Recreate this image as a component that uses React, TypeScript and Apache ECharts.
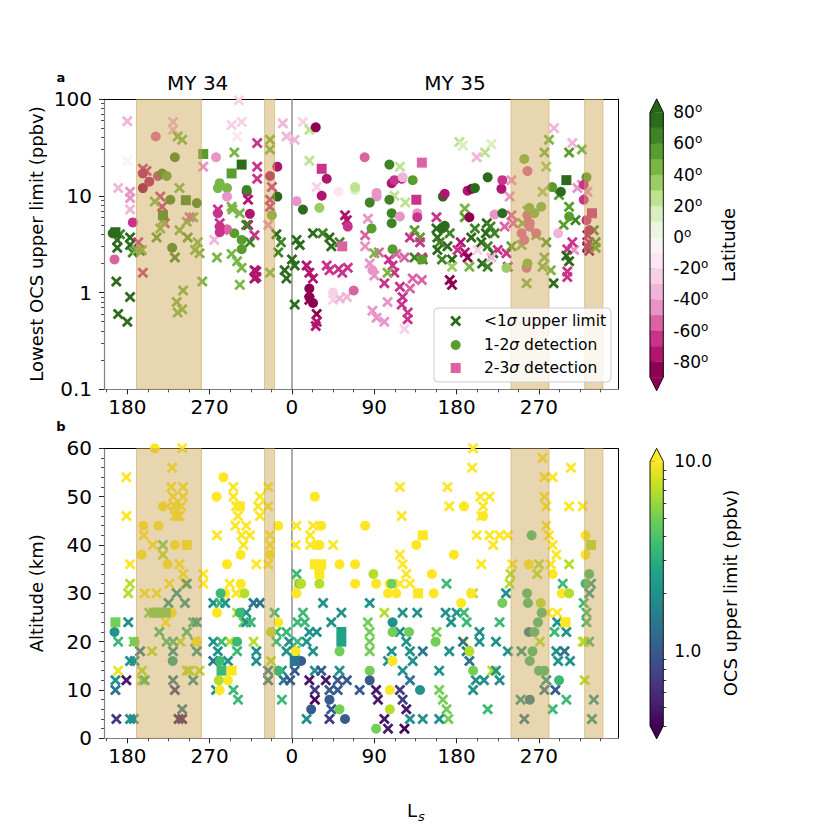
import React, { useEffect, useRef } from "react";
import * as echarts from "echarts";

const FONT = "DejaVu Sans";

// ---------- x axis: continuous Ls (MY34 Ls x -> x, MY35 Ls x -> 360 + x)
const LS_MIN = 154.5;
const LS_MAX = 717;
const LS_MAJOR = [180, 270, 360, 450, 540, 630];
const LS_MINOR = [157.5, 202.5, 225, 247.5, 292.5, 315, 337.5, 382.5, 405, 427.5, 472.5, 495, 517.5, 562.5, 585, 607.5, 652.5, 675, 697.5];
const MY35_START = 360;
const DUST_STORMS = [[190, 261], [330, 341], [599.5, 641], [680, 700]];

// ---------- panel a y axis (ppbv, log)
const A_Y_TICKS = [0.1, 1, 10, 100];
const A_Y_MINOR = [0.2, 0.3, 0.4, 0.5, 0.6, 0.7, 0.8, 0.9, 2, 3, 4, 5, 6, 7, 8, 9, 20, 30, 40, 50, 60, 70, 80, 90];
// ---------- panel b y axis (km)
const B_Y_MIN = 0;
const B_Y_MAX = 60;
const B_Y_STEP = 10;

// ---------- latitude colour scale
const LAT_BOUNDS = [-90, -80, -70, -60, -50, -40, -30, -20, -10, 0, 10, 20, 30, 40, 50, 60, 70, 80];
const LAT_COLORS = ["#8e0152", "#b0166f", "#c9338b", "#da64a3", "#e794c6", "#f0b5d9", "#f8d0e7", "#fbe6f1", "#f6f4f5",
  "#ebf5e0", "#d9efbf", "#bde391", "#9bcd66", "#79b645", "#5a9d2f", "#3f8424", "#2c6b1c"];
const LAT_UNDER = "#8e0152";
const LAT_OVER = "#276419";
const LAT_TICKS = [-80, -60, -40, -20, 0, 20, 40, 60, 80];

// ---------- OCS colour scale (log, viridis)
const PPBV_MIN = 0.4;
const PPBV_MAX = 10;
const PPBV_TICKS = [1, 10];
const PPBV_MINOR = [0.4, 0.5, 0.6, 0.7, 0.8, 0.9, 2, 3, 4, 5, 6, 7, 8, 9];
const VIRIDIS = ["#440154", "#482475", "#414487", "#355f8d", "#2a788e", "#21918c", "#22a884", "#44bf70", "#7ad151", "#bddf26", "#fde725"];

// ---------- panel a data: [Ls, lowest OCS upper limit (ppbv), latitude]
const A_LIMIT = [
  [170, 12, -35], [183, 11, -45], [183, 9.5, -45], [183, 7.2, -35], [180, 59, -35], [180, 23, -5],
  [169, 3.5, 75], [169, 2.9, 75], [183, 3.7, 75], [183, 3.1, 75], [186, 2.6, 65], [194, 2.7, 75], [168, 1.3, 75], [183, 0.9, 75], [170, 0.6, 75], [180, 0.5, 75], [172, 4.0, 65], [192, 3.3, -65],
  [230, 58, -35], [230, 48, -35], [235, 41, 45], [240, 38, 45], [197, 19, -65], [201, 18, -65], [237, 12, 45], [216, 9.8, -65], [218, 7.7, -65], [221, 5.2, -65], [263, 20, -45],
  [210, 8.7, 45], [219, 5.6, 45], [216, 4.6, 45], [212, 3.7, 55], [237, 4.4, 45], [245, 5.4, 45], [252, 6, 45], [257, 3.3, 45], [259, 2.55, 45], [246, 3.7, 55], [254, 2.75, 45], [232, 2.3, 65], [197, 1.6, -65], [241, 1.05, 45], [234, 0.8, 45], [240, 0.67, 45], [235, 0.62, 45], [262, 1.3, 45], [196, 2.75, 45], [190, 2.75, 45], [248, 6, -55],
  [302, 97, -25], [294, 54, -25], [305, 58, -25], [300, 41, -15], [322, 35, -65], [322, 20, -65], [322, 15, -65], [297, 28, 45],
  [279, 7.2, -65], [281, 5.2, -65], [312, 9.1, -75], [312, 5, -75], [319, 3.9, -65], [319, 1.7, -75], [319, 1.4, -75], [321, 1.65, -75], [321, 1.45, -75],
  [294, 7.7, 45], [303, 6.6, 45], [278, 2.3, 45], [294, 2.5, 45], [300, 2.1, 45], [305, 1.8, 45], [303, 1.2, 45], [310, 5, 65], [314, 3.3, 65], [295, 7.2, 45], [285, 4.4, -45], [275, 3.5, -35],
  [336, 38, 45], [336, 30, 45], [338, 12.3, -65], [336, 9.1, -65], [336, 7.7, -65], [336, 1.6, 45], [334, 5, -45],
  [350, 56, -35], [354, 41, -35], [363, 38, -35], [352, 1.7, 75], [354, 1.4, 75], [360, 2.2, 75], [363, 1.9, 75], [345, 2.6, 65], [348, 3.3, 65], [343, 4, 75],
  [372, 58, -25], [387, 12.3, -25], [379, 48, 25], [379, 23, 25],
  [365, 3.5, 75], [368.5, 3.1, 75], [383, 4.1, 75], [393.5, 4.1, 65], [401, 3.7, 75], [403, 3.0, 75], [412, 3.3, 65],
  [376, 1.9, -75], [379, 1.6, -75], [383, 1.4, -75], [398, 1.9, -65], [401, 1.7, -65], [411, 1.75, -65], [415, 1.6, -65], [421, 1.8, -65], [418, 6.3, -75], [420, 5.6, -75],
  [379, 0.84, -85], [387, 0.6, -85], [387, 0.5, -75], [386, 0.45, -75],
  [405, 0.84, -25], [412, 0.87, -35], [420, 0.9, -35], [363, 0.75, 75],
  [448, 0.65, -45], [452.5, 0.55, -45], [461, 0.5, -45], [464.5, 0.8, -45], [483, 0.42, -25], [480, 0.75, -65], [486.5, 0.62, -65], [486.5, 0.53, -65], [481, 0.9, -65], [461, 1.25, -65], [472, 1.6, -65], [478, 1.15, -65], [489, 1.1, -55], [492, 1.4, -55], [502, 1.35, -55], [445, 2.0, -45], [440, 3, -45], [450, 1.5, -45], [455, 2.6, -55], [466, 2.2, -65], [470, 1.9, -65], [474, 2.5, -55], [483, 2.3, -55],
  [472, 10, 25], [484, 8.5, 25], [494, 4.4, 55], [500, 3.7, 55], [494, 2.3, 65], [503, 2.2, 65], [464.5, 1.6, 45], [450, 2.55, 45], [443, 5.8, -45], [440, 3.9, -55], [500, 3.3, -65], [489, 3.7, -65], [502, 2.3, -65],
  [543, 36, 25], [547, 33, 15], [578, 34, 15], [571, 28, 25], [562, 25, -35], [478, 20, 25],
  [519, 3.7, 75], [521.5, 3.3, 65], [519, 2.75, 75], [530, 3, 75], [524, 2.2, 65], [535, 2.2, 75], [518, 4.6, 75], [532.5, 4.1, 65],
  [532.5, 1.35, -85], [535, 1.2, -85], [518, 6, -65],
  [544.5, 3.3, -75], [549, 2.6, -75], [552, 2.3, -85], [541, 2.75, -65], [563, 2.75, -25],
  [573, 5.2, 75], [577, 4.8, 65], [572, 4.1, 75], [581.5, 4.1, 65], [567, 3.3, 75], [574, 3, 65], [580, 2.55, 75], [568, 2, 75], [574, 1.85, 65], [560, 4.6, 65], [556, 3.7, 75],
  [549, 7.4, 45], [549, 6, 55], [554, 1.85, 45], [535, 1.85, 35],
  [585, 2.75, -65], [594.5, 2.55, -65], [596, 1.85, -65], [578, 2.3, -35], [592.5, 4.8, -55],
  [617.5, 7, 45], [612, 5.2, 45], [611, 3.1, 45], [627, 3.9, 45], [636, 2.3, 45], [634, 1.85, 45], [638, 3.3, 55], [616.5, 1.25, 45], [600, 3, 55],
  [636, 28, 45], [638, 20, 35], [634, 11, 35], [600, 14.5, -45], [598, 9.8, -45], [600, 6.3, -55], [602, 5.2, -55],
  [646.5, 50, -35], [666.5, 35, -35], [641, 38, 45], [663, 28, 55], [652, 10.2, 55], [663, 7.7, 55], [643, 1.7, 45], [646, 1.25, 75], [661, 1.65, -65], [661, 1.45, -65], [668.5, 2.75, -45], [661, 2.8, -65], [666.5, 3.3, -65], [660, 2.4, 75], [663, 2.1, 75], [657, 5, 55], [670, 5.6, 65],
  [677, 30, 45], [677, 13, -45], [672, 12, -45], [683, 11, -45], [683, 2.9, -85], [685, 2.7, -85], [683, 3.9, -75], [685, 3.3, -75], [683, 3, -75],
  [690, 4.4, 65], [692, 3.3, 65], [692, 2.9, 55],
];
const A_DET12 = [
  [164, 4.1, 75], [166, 2.2, -55], [186, 5.3, -65],
  [211, 41, -55], [232, 25, 65], [197, 17, -75], [197, 12, -85], [213.5, 16, -65], [218, 17, 65], [223, 16, 55], [227, 9.1, 65], [256, 8.4, 65], [229, 2.9, 65], [204, 14, -75],
  [277, 25, -45], [281, 13.5, 45], [279, 12, 45], [289, 12, 45], [289, 9.8, -45], [279, 6.6, -65], [314, 6.5, -75], [310.5, 11, -75], [310.5, 11.5, 65], [297, 4.1, 55], [305, 3.5, 55], [305, 2.8, 55], [289, 4.5, -55], [281, 4.8, -65], [281, 4.2, -65],
  [336, 16, -75], [344, 20, -75], [338, 6.3, 45], [344, 9.8, 75],
  [386, 51, -85], [398, 15, -75], [392.5, 10, -75], [411, 11, -15], [429, 11.5, 15], [390, 7.5, 35], [372, 7.2, 75], [421, 4.8, -65], [365, 8.8, -45], [379, 1.1, -85], [379, 0.9, -85], [383, 0.78, -85], [405, 1.0, -25], [427.5, 1.05, -55],
  [429, 12.3, 25], [469, 13.5, -75], [480, 15, -75], [492, 14.5, 55], [452.5, 9.8, -45], [445, 8.5, 65], [466.5, 9.1, 65], [469, 6.6, 65], [469, 5.2, 65], [447, 4.6, 55], [478, 6.1, -45], [497, 6.6, -45], [470, 2.8, 55], [502, 2.2, 55], [448, 1.7, -45], [525, 9.8, 75], [524, 4.6, 75], [527, 4.9, 75], [552, 11.3, -75], [556.5, 11.8, -85], [554, 6, -85], [560, 12, 75], [581.5, 6.4, -45], [590, 6.6, 75], [589, 11.8, -75], [590, 14.5, -65], [574, 15.5, 75], [594.5, 1.8, 35], [439.5, 25, -55], [466.5, 21, 65], [472, 14.5, -65], [481, 15.5, -35], [527, 10.5, -75], [497, 6, -65], [452.5, 10.7, -45],
  [614, 24, 45], [617.5, 18, -55], [617.5, 6.3, -55], [620, 5.2, -55], [619.5, 4.8, -55], [627, 4.1, -55], [611, 4.1, -55], [614, 3.5, -55], [616.5, 1.8, -55], [632.5, 7.7, 45], [619.5, 7.5, 45], [625, 6.6, 45], [617.5, 2.0, 45], [644.5, 12.3, 55],
  [654, 11, 75], [663, 6.1, 55], [651, 4.1, -35], [682, 15.5, 55], [679, 9.1, -65], [682, 5.6, -65], [685, 4.4, -75], [679, 13, -65],
];
const A_DET23 = [
  [167, 4.2, 75], [219, 6.3, 65], [244, 9, 65], [263, 27, 55], [294, 17, 55], [305, 21, 75], [392.5, 19, -65], [415, 3.0, -55], [502, 22, -55], [496, 9.1, -65], [660, 14.5, 75], [688, 6.6, -65],
];

// ---------- panel b data: [Ls, altitude (km), OCS upper limit (ppbv)]
const B_LIMIT = [
  [170, 20, 3.5], [170, 14, 9], [167, 12, 2], [167, 10, 1.4], [179, 12, 0.5], [168, 4, 0.7], [183, 4, 2], [187, 4, 2], [179, 54, 12], [179, 46, 12], [183, 36, 12], [183, 32, 7], [181, 30, 7], [181, 24, 2], [187, 20, 5], [188, 16, 2], [183, 16, 2],
  [240, 60, 12], [229, 56, 12], [228, 52, 12], [230, 50, 12], [232, 48, 12], [235, 46, 12], [232, 46, 12], [241, 52, 12], [241, 50, 12], [239, 48, 12], [237, 46, 12], [224, 48, 12], [237, 36, 12], [241, 34, 12], [243, 32, 12], [226, 32, 12], [222, 24, 12], [212, 30, 12], [199, 30, 12], [198, 42, 12], [208, 40, 12], [219, 40, 5], [219, 38, 7], [215, 22, 3.5], [223, 20, 3.5], [230, 18, 2], [207, 18, 7], [194, 18, 1.4], [196, 14, 7], [196, 12, 7], [238, 20, 7], [245, 22, 3.5], [252, 24, 3.5], [256, 24, 2], [254, 20, 3.5], [256, 18, 2], [245, 32, 2], [234, 30, 2], [243, 28, 2], [230, 12, 1.4], [232, 10, 0.7], [240, 6, 1.4], [236, 4, 0.5], [240, 4, 0.5], [245, 14, 7], [248, 14, 7], [252, 12, 2], [259, 14, 7], [263, 34, 12], [263, 32, 12], [199, 12, 3.5], [204, 26, 5], [230, 20, 3.5], [225, 28, 2],
  [296, 52, 12], [296, 50, 12], [299, 48, 12], [301, 46, 12], [298, 44, 12], [305, 42, 12], [307, 40, 12], [310, 44, 12], [314, 42, 12], [325, 50, 12], [323, 48, 12], [325, 46, 12], [278, 42, 12], [321, 36, 12], [292, 32, 12], [299, 30, 12], [300, 26, 7], [307, 24, 5], [292, 20, 7],
  [274, 28, 2], [281, 28, 3.5], [287, 28, 2], [274, 20, 2], [279, 18, 2], [274, 16, 1.4], [300, 18, 3.5], [296, 10, 3.5], [301, 8, 3.5], [310, 26, 2], [310, 24, 2], [318, 28, 1.4], [315, 24, 3.5], [318, 20, 7], [321, 18, 2], [321, 16, 2], [325, 28, 1.4], [277, 10, 2], [283, 20, 3.5], [290, 16, 2],
  [334, 52, 12], [334, 48, 12], [336, 42, 12], [336, 40, 12], [334, 36, 12], [337, 16, 7], [334, 14, 1.4], [334, 12, 1.4], [341, 26, 3.5], [343, 22, 3.5], [343, 20, 3.5], [349, 8, 3.5], [354, 18, 2], [349, 14, 2], [351, 12, 1.4], [354, 22, 3.5], [357, 20, 2], [358, 12, 1],
  [365, 44, 12], [364, 40, 12], [365, 34, 3.5], [367, 32, 12], [366, 24, 3.5], [363, 18, 2], [363, 14, 1], [366, 20, 3.5],
  [383, 44, 12], [380, 42, 12], [380, 40, 12], [405, 40, 12], [478, 52, 12], [480, 46, 12], [478, 38, 12], [481, 36, 12], [485, 34, 12], [489, 32, 12], [478, 32, 12], [530, 52, 12], [532, 48, 12], [566, 50, 12], [569, 48, 12], [576, 50, 12], [567, 46, 12], [557, 56, 12], [558, 60, 12], [562, 42, 12], [576, 42, 12], [580, 40, 12], [587, 42, 12], [596, 42, 12], [567, 36, 12], [634, 58, 12], [636, 54, 12], [636, 50, 12], [638, 48, 12], [638, 44, 12], [641, 42, 12], [645, 40, 12], [649, 38, 12], [643, 36, 12], [599, 34, 7], [598, 32, 7], [601, 36, 12], [630, 36, 7], [628, 34, 7], [645, 54, 12], [665, 56, 12], [663, 48, 12], [678, 48, 12], [663, 36, 7], [650, 26, 12], [680, 12, 7], [680, 20, 7], [548, 20, 12], [461, 26, 7],
  [372, 26, 3.5], [374, 24, 3.5], [379, 22, 2], [376, 20, 2], [387, 22, 2], [383, 18, 2], [385, 14, 2], [379, 12, 0.5], [385, 10, 0.7], [385, 8, 0.42], [376, 4, 2], [394, 28, 2], [403, 24, 2], [414, 26, 2], [392, 14, 1], [397, 12, 0.5], [401, 10, 1], [403, 6, 1], [401, 4, 0.7], [412, 14, 2], [410, 12, 1], [410, 10, 1], [420, 12, 1], [445, 28, 2], [443, 24, 5], [445, 22, 5], [445, 20, 5], [445, 18, 5], [434, 10, 1], [452, 10, 0.5], [454, 8, 0.5], [461, 4, 0.5], [465, 2, 0.5], [465, 16, 2], [481, 26, 2], [497, 26, 2], [478, 22, 2], [485, 20, 2], [489, 18, 2], [492, 16, 2], [503, 18, 1.4], [481, 14, 2], [489, 12, 1.4], [478, 10, 0.7], [481, 8, 0.7], [485, 6, 0.5], [483, 2, 0.42], [489, 4, 2], [503, 4, 2], [469, 18, 2], [518, 22, 5], [521, 14, 2], [521, 10, 5], [525, 8, 5], [529, 6, 5], [531, 4, 5], [521, 4, 2], [528, 26, 2], [534, 24, 2], [532, 18, 2], [540, 26, 2], [547, 20, 1.4], [551, 18, 1.4], [554, 16, 1.4], [548, 26, 3.5], [551, 24, 3.5], [558, 30, 7], [565, 22, 2], [565, 20, 2], [561, 12, 2], [558, 10, 2], [570, 12, 2], [579, 14, 7], [583, 20, 2], [587, 24, 3.5], [594, 30, 2], [596, 18, 2], [583, 14, 2], [587, 12, 2], [574, 6, 3.5], [529, 32, 3.5],
  [614, 4, 1.4], [610, 8, 2], [611, 18, 2], [631, 20, 7], [638, 12, 2], [636, 10, 1.4], [640, 26, 12],
  [656, 32, 3.5], [650, 24, 2], [660, 22, 2], [649, 18, 2], [651, 16, 2], [648, 10, 1], [645, 6, 3.5], [660, 8, 3.5], [647, 22, 3.5], [658, 18, 1.4], [664, 16, 2],
  [679, 28, 3.5], [682, 26, 3.5], [682, 24, 3.5], [685, 20, 3.5], [690, 8, 2], [688, 4, 2], [685, 30, 2], [687, 32, 2], [678, 20, 7],
];
const B_DET12 = [
  [166, 22, 2], [210, 60, 12], [197.5, 44, 12], [195.7, 38, 12], [214, 44, 12], [224, 36, 12], [232, 40, 12], [219, 48, 12], [234, 48, 12], [256, 20, 12], [228.5, 26, 12], [229.6, 16, 2.5], [188, 20, 5],
  [277.6, 50, 12], [285, 54, 12], [289, 36, 12], [287, 30, 12], [304, 38, 12], [304, 32, 12], [278, 26, 12], [281, 10, 12], [290, 12, 12], [282, 30, 3.5], [308, 30, 7], [303, 26, 3.5], [300, 20, 3.5], [281, 16, 3.5], [280, 12, 7],
  [336, 38, 12], [337, 22, 7], [345, 44, 12], [345, 24, 12], [345, 14, 3.5],
  [365, 30, 12], [364, 18, 12], [368, 32, 5],
  [385, 50, 12], [392, 44, 12], [390, 40, 12], [388, 40, 12], [412, 36, 12], [429, 36, 12], [429, 32, 12], [452, 32, 12], [440, 44, 12], [467, 32, 12], [449, 34, 7], [370, 32, 7], [390, 32, 7], [465, 30, 12], [474, 30, 12], [469, 32, 5], [496, 40, 12], [513, 34, 12], [515, 30, 12], [537, 38, 12], [548, 48, 12], [569, 46, 12], [556, 30, 12], [545, 28, 12],
  [370, 16, 1], [381, 6, 1], [401, 8, 1], [412, 18, 5], [412, 6, 5], [418, 4, 1], [445, 14, 5], [445, 12, 1], [452, 2, 5], [467, 10, 12], [467, 6, 7], [470, 22, 5], [470, 24, 2], [470, 16, 12], [488, 22, 5], [500, 10, 2], [517, 20, 5], [554, 18, 7], [558, 14, 5], [590, 28, 5],
  [622, 42, 3.5], [619, 36, 12], [617, 30, 3.5], [618, 28, 3.5], [633, 26, 3.5], [632, 28, 7], [629, 24, 3.5], [619, 22, 1.4], [625, 22, 3.5], [623, 18, 3.5], [620, 16, 3.5], [630, 14, 3.5], [636, 14, 3.5], [620, 8, 1.4],
  [645, 34, 12], [655, 30, 12], [663, 30, 7], [652, 12, 3.5], [681, 42, 12], [681, 38, 12], [685, 34, 3.5], [681, 32, 3.5],
];
const B_DET23 = [
  [167, 24, 5], [209, 26, 5], [216, 26, 5], [222, 26, 5], [245, 40, 12], [303, 48, 12], [283, 14, 3.5], [294, 14, 12], [363, 16, 1.4], [385, 36, 12], [392, 36, 12], [390, 34, 12], [503, 42, 12], [498, 30, 12], [414, 22, 2.5], [414, 20, 2.5], [659, 24, 12], [687, 40, 7],
];

// ---------- helpers
const X_UNIT = [[0, 1.8], [1.8, 0], [5, 3.2], [8.2, 0], [10, 1.8], [6.8, 5], [10, 8.2], [8.2, 10], [5, 6.8], [1.8, 10], [0, 8.2], [3.2, 5]];
const X_SYMBOL = "path://M" + X_UNIT.map((p) => p.join(",")).join("L") + "Z";

function latColor(lat: number) {
  if (lat < LAT_BOUNDS[0]) return LAT_UNDER;
  if (lat >= LAT_BOUNDS[LAT_BOUNDS.length - 1]) return LAT_OVER;
  const i = Math.floor((lat - LAT_BOUNDS[0]) / 10);
  return LAT_COLORS[Math.max(0, Math.min(LAT_COLORS.length - 1, i))];
}
function hex2rgb(h: string) {
  return [parseInt(h.slice(1, 3), 16), parseInt(h.slice(3, 5), 16), parseInt(h.slice(5, 7), 16)];
}
function ppbvColor(v: number) {
  const lo = Math.log10(PPBV_MIN), hi = Math.log10(PPBV_MAX);
  let t = (Math.log10(v) - lo) / (hi - lo);
  t = Math.max(0, Math.min(1, t));
  const f = t * (VIRIDIS.length - 1);
  const i = Math.min(VIRIDIS.length - 2, Math.floor(f));
  const r = f - i;
  const a = hex2rgb(VIRIDIS[i]), b = hex2rgb(VIRIDIS[i + 1]);
  const c = a.map((x, k) => Math.round(x + (b[k] - x) * r));
  return `rgb(${c[0]},${c[1]},${c[2]})`;
}

const GRID_A = { left: 104, top: 99, width: 514.5, height: 290.3 };
const GRID_B = { left: 104, top: 448.3, width: 514.5, height: 290 };
const GRID_CA = { left: 650, top: 112.3, width: 13.3, height: 265 };
const GRID_CB = { left: 650, top: 461.3, width: 13.3, height: 264.6 };

const SPINE_GRAY = "#808080";
const TICK_COLOR = "#222";

function lsAxes(gridIndex: number) {
  return [
    {
      type: "value", gridIndex, min: LS_MIN, max: LS_MAX, position: "bottom",
      axisLine: { show: true, onZero: false, lineStyle: { color: SPINE_GRAY, width: 1.2 } },
      axisTick: { show: true, customValues: LS_MAJOR, length: 5, lineStyle: { color: TICK_COLOR, width: 1 } },
      axisLabel: {
        show: true, customValues: LS_MAJOR, fontSize: 20, color: "#000", fontFamily: FONT, margin: 8,
        formatter: (v: number) => String(Math.round(v) % MY35_START),
      },
      splitLine: { show: false },
    },
    {
      type: "value", gridIndex, min: LS_MIN, max: LS_MAX, position: "bottom",
      axisLine: { show: false, onZero: false },
      axisTick: { show: true, customValues: LS_MINOR, length: 3, lineStyle: { color: TICK_COLOR, width: 0.8 } },
      axisLabel: { show: false },
      splitLine: { show: false },
    },
    {
      type: "value", gridIndex, min: 0, max: 1, position: "top",
      axisLine: { show: true, onZero: false, lineStyle: { color: "#000", width: 1 } },
      axisTick: { show: false }, axisLabel: { show: false }, splitLine: { show: false },
    },
  ];
}

function rightSpine(gridIndex: number) {
  return {
    type: "value", gridIndex, min: 0, max: 1, position: "right",
    axisLine: { show: true, onZero: false, lineStyle: { color: "#000", width: 1 } },
    axisTick: { show: false }, axisLabel: { show: false }, splitLine: { show: false },
  };
}

function scatter(xi: number, yi: number, data: number[][], symbol: string, size: number, colorFn: (v: number) => string, yFn: (v: number) => number, z: number) {
  return {
    type: "scatter", xAxisIndex: xi, yAxisIndex: yi, symbol, symbolSize: size, z, silent: true,
    data: data.map(([x, y, c]) => ({ value: [x, yFn(y)], itemStyle: { color: colorFn(c), opacity: 1 } })),
  };
}

function bandSeries(xi: number, yi: number) {
  return {
    type: "custom", xAxisIndex: xi, yAxisIndex: yi, z: 6, silent: true, clip: true,
    data: DUST_STORMS.map(([s, e]) => [s, e, 0]),
    encode: { x: [0, 1], y: 2 },
    renderItem: (params: any, api: any) => {
      const cs = params.coordSys;
      const x0 = api.coord([api.value(0), 0])[0];
      const x1 = api.coord([api.value(1), 0])[0];
      return {
        type: "rect",
        shape: { x: x0, y: cs.y, width: x1 - x0, height: cs.height },
        style: { fill: "rgba(204,164,79,0.45)", stroke: "rgba(204,164,79,0.55)", lineWidth: 1 },
      };
    },
  };
}

function yearLine(xi: number, yi: number) {
  return {
    type: "custom", xAxisIndex: xi, yAxisIndex: yi, z: 1, silent: true,
    data: [[MY35_START, 0]],
    renderItem: (params: any, api: any) => {
      const cs = params.coordSys;
      const x = api.coord([api.value(0), 0])[0];
      return { type: "line", shape: { x1: x, y1: cs.y, x2: x, y2: cs.y + cs.height }, style: { stroke: SPINE_GRAY, lineWidth: 1.3 } };
    },
  };
}

function xPoints(cx: number, cy: number, s: number) {
  return X_UNIT.map(([px, py]) => [cx + (px - 5) * s / 10, cy + (py - 5) * s / 10]);
}

export default function App() {
  const ref = useRef<HTMLDivElement>(null);
  useEffect(() => {
    if (!ref.current) return;
    const chart = echarts.init(ref.current, undefined, { renderer: "svg" });
    const log10 = (v: number) => Math.log10(v);
    const ident = (v: number) => v;
    const aLabels: Record<string, string> = {};
    A_Y_TICKS.forEach((t) => { aLabels[String(Math.round(Math.log10(t)))] = String(t); });

    const option: any = {
      animation: false,
      backgroundColor: "#fff",
      textStyle: { fontFamily: FONT },
      grid: [
        { ...GRID_A, containLabel: false },
        { ...GRID_B, containLabel: false },
        { ...GRID_CA, containLabel: false },
        { ...GRID_CB, containLabel: false },
      ],
      xAxis: [
        ...lsAxes(0), // 0,1,2
        ...lsAxes(1), // 3,4,5
        { type: "value", gridIndex: 2, min: 0, max: 1, show: false }, // 6
        { type: "value", gridIndex: 3, min: 0, max: 1, show: false }, // 7
      ],
      yAxis: [
        { // 0: panel a
          type: "value", gridIndex: 0, min: Math.log10(A_Y_TICKS[0]), max: Math.log10(A_Y_TICKS[3]), interval: 1, position: "left",
          axisLine: { show: true, onZero: false, lineStyle: { color: SPINE_GRAY, width: 1.2 } },
          axisTick: { show: true, length: 5, lineStyle: { color: TICK_COLOR, width: 1 } },
          axisLabel: { fontSize: 20, color: "#000", fontFamily: FONT, margin: 12, formatter: (v: number) => aLabels[String(Math.round(v))] ?? "" },
          splitLine: { show: false },
        },
        { // 1: panel a minor
          type: "value", gridIndex: 0, min: Math.log10(A_Y_TICKS[0]), max: Math.log10(A_Y_TICKS[3]), position: "left",
          axisLine: { show: false, onZero: false },
          axisTick: { show: true, customValues: A_Y_MINOR.map(log10), length: 3, lineStyle: { color: TICK_COLOR, width: 0.8 } },
          axisLabel: { show: false }, splitLine: { show: false },
        },
        rightSpine(0), // 2
        { // 3: panel b
          type: "value", gridIndex: 1, min: B_Y_MIN, max: B_Y_MAX, interval: B_Y_STEP, position: "left",
          axisLine: { show: true, onZero: false, lineStyle: { color: SPINE_GRAY, width: 1.2 } },
          axisTick: { show: true, length: 5, lineStyle: { color: TICK_COLOR, width: 1 } },
          minorTick: { show: true, splitNumber: 5, length: 3, lineStyle: { color: TICK_COLOR, width: 0.8 } },
          axisLabel: { fontSize: 20, color: "#000", fontFamily: FONT, margin: 12 },
          splitLine: { show: false },
        },
        rightSpine(1), // 4
        { // 5: latitude colourbar
          type: "value", gridIndex: 2, min: LAT_BOUNDS[0], max: LAT_BOUNDS[LAT_BOUNDS.length - 1], position: "right",
          axisLine: { show: false },
          axisTick: { show: true, customValues: LAT_TICKS, length: 5, inside: false, lineStyle: { color: "#000", width: 1 } },
          axisLabel: {
            show: true, customValues: LAT_TICKS, margin: 10, color: "#000", fontFamily: FONT,
            formatter: (v: number) => `{n|${v}}{s|o}`,
            rich: {
              n: { fontSize: 17, fontFamily: FONT, color: "#000", lineHeight: 20, verticalAlign: "middle" },
              s: { fontSize: 12, fontFamily: FONT, color: "#000", lineHeight: 20, verticalAlign: "top", padding: [0, 0, 8, 0] },
            },
          },
          splitLine: { show: false },
        },
        { // 6: ppbv colourbar
          type: "value", gridIndex: 3, min: Math.log10(PPBV_MIN), max: Math.log10(PPBV_MAX), position: "right",
          axisLine: { show: false },
          axisTick: { show: true, customValues: PPBV_TICKS.map(log10), length: 5, lineStyle: { color: "#000", width: 1 } },
          axisLabel: {
            show: true, customValues: PPBV_TICKS.map(log10), margin: 11, fontSize: 17, color: "#000", fontFamily: FONT,
            formatter: (v: number) => Math.pow(10, v).toFixed(1),
          },
          splitLine: { show: false },
        },
        { // 7: ppbv colourbar minor ticks
          type: "value", gridIndex: 3, min: Math.log10(PPBV_MIN), max: Math.log10(PPBV_MAX), position: "right",
          axisLine: { show: false },
          axisTick: { show: true, customValues: PPBV_MINOR.map(log10), length: 3, lineStyle: { color: "#000", width: 0.8 } },
          axisLabel: { show: false }, splitLine: { show: false },
        },
      ],
      series: [
        yearLine(0, 0),
        scatter(0, 0, A_LIMIT, X_SYMBOL, 11, latColor, log10, 2),
        scatter(0, 0, A_DET12, "circle", 10, latColor, log10, 3),
        scatter(0, 0, A_DET23, "rect", 10, latColor, log10, 4),
        bandSeries(0, 0),
        yearLine(3, 3),
        scatter(3, 3, B_LIMIT, X_SYMBOL, 11, ppbvColor, ident, 2),
        scatter(3, 3, B_DET12, "circle", 10, ppbvColor, ident, 3),
        scatter(3, 3, B_DET23, "rect", 10, ppbvColor, ident, 4),
        bandSeries(3, 3),
        { // latitude colourbar bins
          type: "custom", xAxisIndex: 6, yAxisIndex: 5, clip: false, silent: true,
          data: LAT_COLORS.map((c, i) => [LAT_BOUNDS[i], LAT_BOUNDS[i + 1], i]),
          encode: { y: [0, 1], x: 2 },
          renderItem: (params: any, api: any) => {
            const a = api.coord([0, api.value(1)]);
            const b = api.coord([1, api.value(0)]);
            const c = LAT_COLORS[api.value(2)];
            return { type: "rect", shape: { x: a[0], y: a[1], width: b[0] - a[0], height: b[1] - a[1] }, style: { fill: c, stroke: c, lineWidth: 0.5 } };
          },
        },
        { // latitude colourbar extensions + outline
          type: "custom", xAxisIndex: 6, yAxisIndex: 5, clip: false, silent: true, z: 3,
          data: [[LAT_BOUNDS[0], LAT_BOUNDS[LAT_BOUNDS.length - 1]]],
          encode: { y: [0, 1] },
          renderItem: (params: any, api: any) => {
            const tl = api.coord([0, api.value(1)]);
            const br = api.coord([1, api.value(0)]);
            const cx = (tl[0] + br[0]) / 2, tri = 13.5;
            return {
              type: "group",
              children: [
                { type: "polygon", shape: { points: [[tl[0], tl[1]], [br[0], tl[1]], [cx, tl[1] - tri]] }, style: { fill: LAT_OVER } },
                { type: "polygon", shape: { points: [[tl[0], br[1]], [br[0], br[1]], [cx, br[1] + tri]] }, style: { fill: LAT_UNDER } },
                { type: "polygon", shape: { points: [[tl[0], tl[1]], [cx, tl[1] - tri], [br[0], tl[1]], [br[0], br[1]], [cx, br[1] + tri], [tl[0], br[1]]] }, style: { fill: "none", stroke: "#000", lineWidth: 0.9 } },
              ],
            };
          },
        },
        { // ppbv colourbar
          type: "custom", xAxisIndex: 7, yAxisIndex: 6, clip: false, silent: true,
          data: [[Math.log10(PPBV_MIN), Math.log10(PPBV_MAX)]],
          encode: { y: [0, 1] },
          renderItem: (params: any, api: any) => {
            const tl = api.coord([0, api.value(1)]);
            const br = api.coord([1, api.value(0)]);
            const cx = (tl[0] + br[0]) / 2, tri = 13;
            const grad = new echarts.graphic.LinearGradient(0, 1, 0, 0, VIRIDIS.map((c, i) => ({ offset: i / (VIRIDIS.length - 1), color: c })));
            return {
              type: "group",
              children: [
                { type: "rect", shape: { x: tl[0], y: tl[1], width: br[0] - tl[0], height: br[1] - tl[1] }, style: { fill: grad } },
                { type: "polygon", shape: { points: [[tl[0], tl[1]], [br[0], tl[1]], [cx, tl[1] - tri]] }, style: { fill: VIRIDIS[VIRIDIS.length - 1] } },
                { type: "polygon", shape: { points: [[tl[0], br[1]], [br[0], br[1]], [cx, br[1] + tri]] }, style: { fill: VIRIDIS[0] } },
                { type: "polygon", shape: { points: [[tl[0], tl[1]], [cx, tl[1] - tri], [br[0], tl[1]], [br[0], br[1]], [cx, br[1] + tri], [tl[0], br[1]]] }, style: { fill: "none", stroke: "#000", lineWidth: 0.9 } },
              ],
            };
          },
        },
      ],
      graphic: [
        { type: "text", x: 197.7, y: 83, style: { text: "MY 34", fontSize: 20, fontFamily: FONT, fill: "#000", align: "center", verticalAlign: "middle" } },
        { type: "text", x: 455, y: 83, style: { text: "MY 35", fontSize: 20, fontFamily: FONT, fill: "#000", align: "center", verticalAlign: "middle" } },
        { type: "text", x: 61, y: 77.5, style: { text: "a", fontSize: 13, fontWeight: "bold", fontFamily: FONT, fill: "#000", align: "center", verticalAlign: "middle" } },
        { type: "text", x: 61, y: 426.5, style: { text: "b", fontSize: 13, fontWeight: "bold", fontFamily: FONT, fill: "#000", align: "center", verticalAlign: "middle" } },
        { type: "text", x: 36.5, y: 244, rotation: Math.PI / 2, style: { text: "Lowest OCS upper limit (ppbv)", fontSize: 18, fontFamily: FONT, fill: "#000", align: "center", verticalAlign: "middle" } },
        { type: "text", x: 36.5, y: 593.3, rotation: Math.PI / 2, style: { text: "Altitude (km)", fontSize: 18, fontFamily: FONT, fill: "#000", align: "center", verticalAlign: "middle" } },
        { type: "text", x: 728.5, y: 245, rotation: Math.PI / 2, style: { text: "Latitude", fontSize: 18, fontFamily: FONT, fill: "#000", align: "center", verticalAlign: "middle" } },
        { type: "text", x: 730, y: 593, rotation: Math.PI / 2, style: { text: "OCS upper limit (ppbv)", fontSize: 18, fontFamily: FONT, fill: "#000", align: "center", verticalAlign: "middle" } },
        { type: "text", x: 407, y: 810, style: { text: "L", fontSize: 18, fontFamily: FONT, fill: "#000", align: "left", verticalAlign: "middle" } },
        { type: "text", x: 418, y: 816, style: { text: "s", fontSize: 13, fontStyle: "italic", fontFamily: FONT, fill: "#000", align: "left", verticalAlign: "middle" } },
        // legend
        { type: "rect", z: 100, shape: { x: 434, y: 308, width: 177, height: 74, r: 4 }, style: { fill: "rgba(255,255,255,0.8)", stroke: "#cccccc", lineWidth: 1 } },
        { type: "polygon", z: 101, shape: { points: xPoints(455.7, 321, 11) }, style: { fill: latColor(75) } },
        { type: "circle", z: 101, shape: { cx: 455.7, cy: 345, r: 5 }, style: { fill: latColor(55) } },
        { type: "rect", z: 101, shape: { x: 450.7, y: 363, width: 10, height: 10 }, style: { fill: latColor(-55) } },
        { type: "text", z: 101, x: 484, y: 321, style: { text: "<1{i|σ} upper limit", rich: { i: { fontStyle: "italic", fontSize: 15.5, fontFamily: FONT } }, fontSize: 15.5, fontFamily: FONT, fill: "#000", verticalAlign: "middle" } },
        { type: "text", z: 101, x: 484, y: 345, style: { text: "1-2{i|σ} detection", rich: { i: { fontStyle: "italic", fontSize: 15.5, fontFamily: FONT } }, fontSize: 15.5, fontFamily: FONT, fill: "#000", verticalAlign: "middle" } },
        { type: "text", z: 101, x: 484, y: 368, style: { text: "2-3{i|σ} detection", rich: { i: { fontStyle: "italic", fontSize: 15.5, fontFamily: FONT } }, fontSize: 15.5, fontFamily: FONT, fill: "#000", verticalAlign: "middle" } },
      ],
    };
    chart.setOption(option);
    return () => chart.dispose();
  }, []);
  return <div ref={ref} style={{ position: "absolute", left: 0, top: 0, width: 830, height: 830 }} />;
}
